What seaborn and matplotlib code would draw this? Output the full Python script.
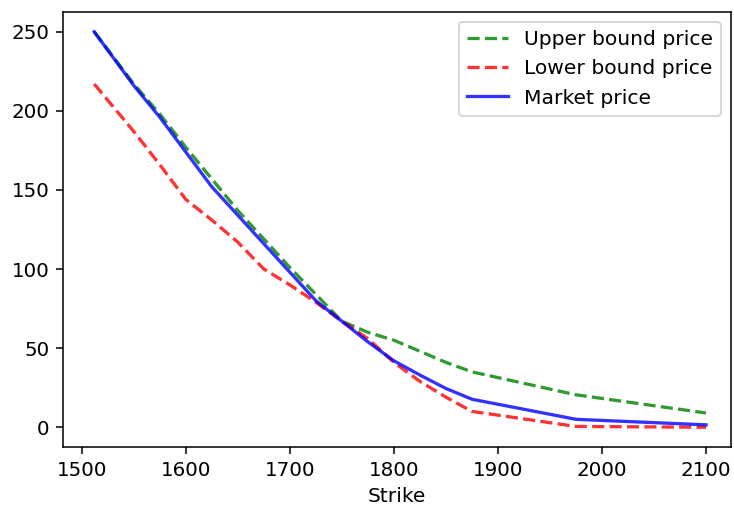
import matplotlib
matplotlib.use("Agg")
import matplotlib.pyplot as plt
import seaborn as sns
import pandas as pd

strikes = [1512, 1550, 1575, 1600, 1625, 1650, 1675, 1700, 1725, 1750,
           1775, 1800, 1825, 1850, 1875, 1975, 2100]
upper_bound = [250, 217, 198, 177, 157, 137, 119, 101, 84, 67,
               60, 55, 48, 41, 35, 20.5, 9]
lower_bound = [217, 187, 166, 144, 131, 117, 100, 90, 79, 67,
               56, 41, 29, 19, 10, 0.5, 0]
market = [250, 216, 196, 174, 152, 134, 116, 98, 80, 67,
          54, 42, 33, 24.5, 17.7, 5, 1.5]

df = pd.DataFrame({"Strike": strikes, "upper": upper_bound,
                   "lower": lower_bound, "market": market})

DPI = 139
fig = plt.figure(figsize=(734 / DPI, 510 / DPI), dpi=DPI)
ax = fig.add_axes([63 / 734, 1 - 447 / 510, (731 - 63) / 734, (447 - 12) / 510])

sns.lineplot(data=df, x="Strike", y="upper", ax=ax, color="g", alpha=0.8,
             linestyle="--", linewidth=1.7, label="Upper bound price")
sns.lineplot(data=df, x="Strike", y="lower", ax=ax, color="r", alpha=0.8,
             linestyle="--", linewidth=1.7, label="Lower bound price")
sns.lineplot(data=df, x="Strike", y="market", ax=ax, color="b", alpha=0.8,
             linewidth=1.7, label="Market price")

ax.set_ylabel("")
ax.set_xlabel("Strike", fontsize=10.5)
ax.set_xlim(1482, 2124)
ax.set_ylim(-12.5, 262.5)
ax.set_xticks([1500, 1600, 1700, 1800, 1900, 2000, 2100])
ax.set_yticks([0, 50, 100, 150, 200, 250])
ax.tick_params(labelsize=10.3)
ax.legend(loc="upper right", fontsize=10.5)

fig.savefig("out.png", dpi=DPI)
